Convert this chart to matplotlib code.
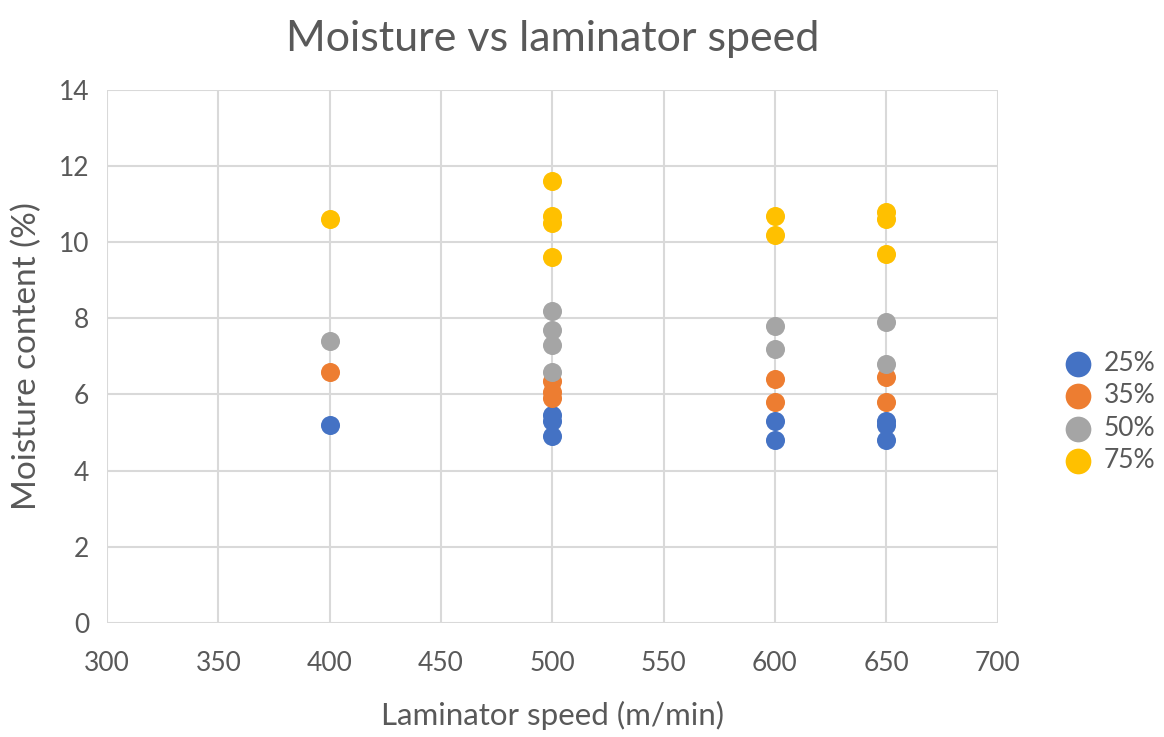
import matplotlib.pyplot as plt

# laminator speed (m/min) and moisture content (%) per humidity level
speed_25 = [400, 500, 500, 500, 600, 600, 650, 650, 650]
moist_25 = [5.2, 5.45, 5.3, 4.9, 5.3, 4.8, 5.3, 5.2, 4.8]

speed_35 = [400, 500, 500, 500, 600, 600, 650, 650]
moist_35 = [6.6, 6.35, 6.05, 5.9, 6.4, 5.8, 6.45, 5.8]

speed_50 = [400, 500, 500, 500, 500, 600, 600, 650, 650]
moist_50 = [7.4, 8.2, 7.7, 7.3, 6.6, 7.8, 7.2, 7.9, 6.8]

speed_75 = [400, 500, 500, 500, 500, 600, 600, 650, 650, 650]
moist_75 = [10.6, 11.6, 10.7, 10.5, 9.6, 10.7, 10.2, 10.8, 10.6, 9.7]

labels = ['25%', '35%', '50%', '75%']
colors = ['#4472C4', '#ED7D31', '#A5A5A5', '#FFC000']

plt.rcParams['font.family'] = ['Lato', 'DejaVu Sans']
text_col = '#595959'

fig = plt.figure(figsize=(11.64, 7.37), dpi=100)
ax = fig.add_axes([0.092, 0.155, 0.765, 0.723])

series = [(speed_25, moist_25), (speed_35, moist_35),
          (speed_50, moist_50), (speed_75, moist_75)]
for (xs, ys), lab, col in zip(series, labels, colors):
    ax.scatter(xs, ys, s=188, color=col, label=lab, zorder=3, linewidths=0)

ax.set_xlim(300, 700)
ax.set_ylim(0, 14)
ax.set_xticks(range(300, 701, 50))
ax.set_yticks(range(0, 15, 2))
ax.grid(True, color='#D9D9D9', linewidth=1.5, zorder=0)
for sp in ax.spines.values():
    sp.set_visible(False)
ax.tick_params(length=0, labelsize=19, colors=text_col)
ax.tick_params(axis='x', pad=20)
ax.tick_params(axis='y', pad=13)

ax.set_title('Moisture vs laminator speed', fontsize=31, color=text_col, pad=28)
ax.set_xlabel('Laminator speed (m/min)', fontsize=22.5, color=text_col, labelpad=18)
ax.set_ylabel('Moisture content (%)', fontsize=24, color=text_col, labelpad=12)

fig.legend(loc='center left', bbox_to_anchor=(0.906, 0.441), borderaxespad=0,
           frameon=False, fontsize=19, labelcolor=text_col,
           handlelength=1.0, handletextpad=0.46, labelspacing=0.27,
           markerscale=1.35)

fig.savefig('out.png', dpi=100)
